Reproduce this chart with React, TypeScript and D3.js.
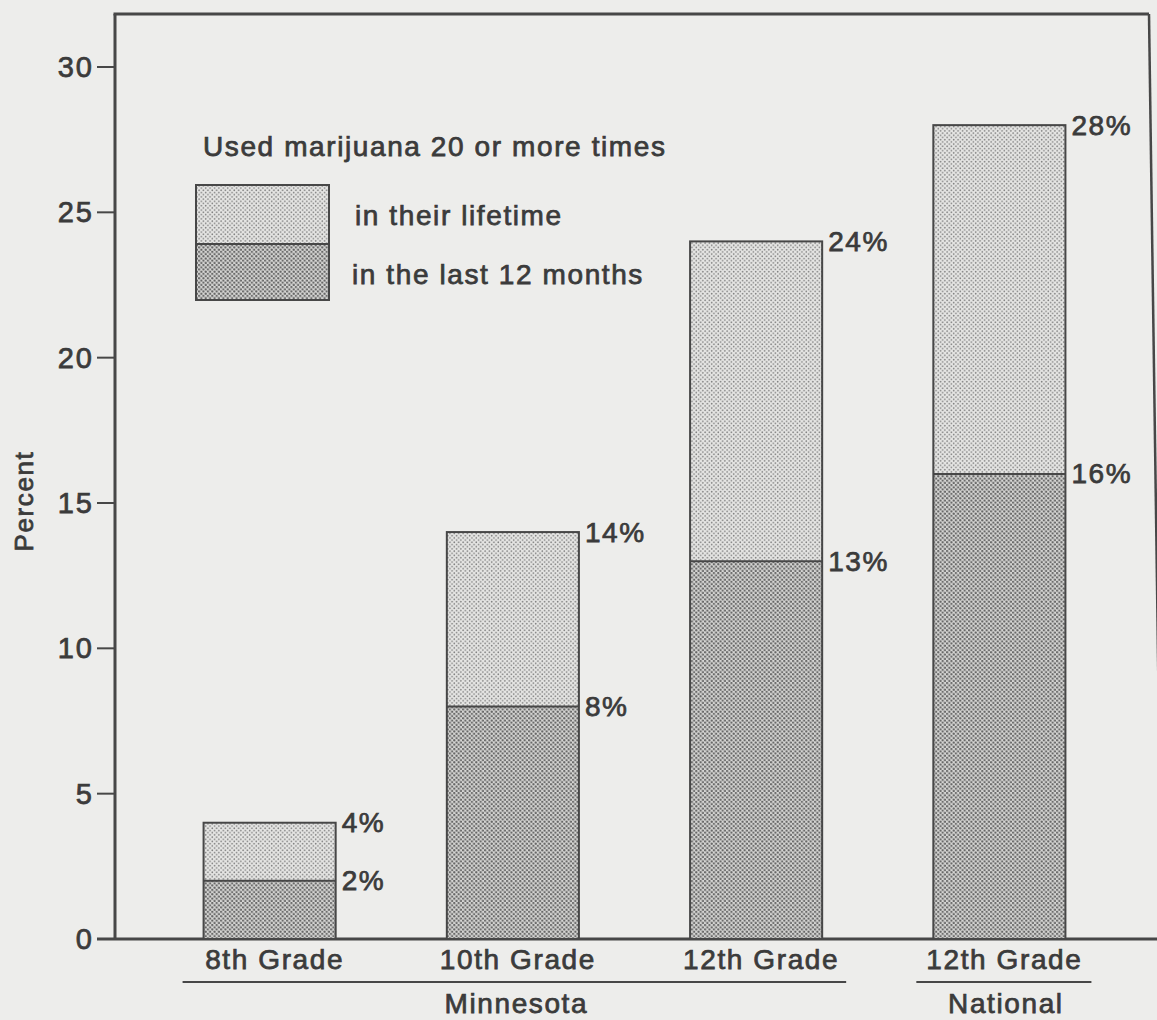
import React from 'react';
import * as d3 from 'd3';

// Heavy marijuana use by grade, Minnesota vs. national 12th graders
const gradeLabels = ['8th Grade', '10th Grade', '12th Grade', '12th Grade'];
const regionOf = ['Minnesota', 'Minnesota', 'Minnesota', 'National'];
const lifetimePct = [4, 14, 24, 28];
const lastYearPct = [2, 8, 13, 16];
const yTicks = [0, 5, 10, 15, 20, 25, 30];
const legendTitle = 'Used marijuana 20 or more times';
const legendLabels = ['in their lifetime', 'in the last 12 months'];

const W = 1157;
const H = 1020;
const INK = '#3b3b3b';
const LINE = '#474747';
const FONT = '"Liberation Sans", Arial, Helvetica, sans-serif';

export default function App() {
  const idx = gradeLabels.map((_, i) => i);
  const x = d3
    .scaleBand<number>()
    .domain(idx)
    .range([148, 1121])
    .paddingInner(0.457)
    .paddingOuter(0.2285);
  const y = d3.scaleLinear().domain([0, 30]).range([939, 67]);
  const bw = x.bandwidth();

  const axisX = 115;
  const regions = Array.from(new Set(regionOf));
  const regionSpans = regions.map((r) => {
    const members = idx.filter((i) => regionOf[i] === r);
    const first = members[0];
    const last = members[members.length - 1];
    return {
      name: r,
      x0: (x(first) as number) - (r === 'National' ? 17 : 21),
      x1: (x(last) as number) + bw + (r === 'National' ? 26 : 24),
    };
  });

  const textStyle = {
    fontFamily: FONT,
    fontSize: 28,
    fill: INK,
    stroke: INK,
    strokeWidth: 0.75,
    letterSpacing: 1.6,
  } as React.CSSProperties;

  const legendX = 196;
  const legendW = 133;
  const legendTop = 185;
  const legendMid = 244;
  const legendBottom = 300;

  return (
    <svg
      width={W}
      height={H}
      viewBox={`0 0 ${W} ${H}`}
      style={{ position: 'absolute', left: 0, top: 0, display: 'block' }}
    >
      <defs>
        <pattern id="litePat" width={4.4} height={4.4} patternUnits="userSpaceOnUse">
          <rect width={4.4} height={4.4} fill="#e6e6e4" />
          <circle cx={1.1} cy={1.1} r={0.85} fill="#808080" />
          <circle cx={3.3} cy={3.3} r={0.85} fill="#808080" />
        </pattern>
        <pattern id="darkPat" width={4.4} height={4.4} patternUnits="userSpaceOnUse">
          <rect width={4.4} height={4.4} fill="#d6d6d4" />
          <circle cx={1.1} cy={1.1} r={1.15} fill="#666" />
          <circle cx={3.3} cy={3.3} r={1.15} fill="#666" />
        </pattern>
      </defs>

      <rect width={W} height={H} fill="#ededeb" />

      {/* frame */}
      <line x1={axisX - 1.5} y1={14} x2={1149} y2={14} stroke={LINE} strokeWidth={3} />
      <line x1={1149} y1={14} x2={1162} y2={939} stroke={LINE} strokeWidth={2.5} />
      <line x1={axisX} y1={14} x2={axisX} y2={940} stroke={LINE} strokeWidth={3} />
      <line x1={97} y1={y(0)} x2={W} y2={y(0)} stroke={LINE} strokeWidth={3} />

      {/* y ticks */}
      {yTicks.map((t) => (
        <g key={t}>
          <line x1={97} x2={axisX} y1={y(t)} y2={y(t)} stroke={LINE} strokeWidth={2} />
          <text
            x={94}
            y={y(t)}
            textAnchor="end"
            dominantBaseline="central"
            style={{ ...textStyle, fontSize: 29, letterSpacing: 2 }}
          >
            {t}
          </text>
        </g>
      ))}
      <text
        transform={`translate(33, ${y(15) - 2}) rotate(-90)`}
        textAnchor="middle"
        style={{ ...textStyle, fontSize: 26, letterSpacing: 1.6 }}
      >
        Percent
      </text>

      {/* stacked bars */}
      {idx.map((i) => {
        const bx = x(i) as number;
        const yTop = y(lifetimePct[i]);
        const yMid = y(lastYearPct[i]);
        const yBase = y(0);
        return (
          <g key={i}>
            <rect x={bx} y={yTop} width={bw} height={yMid - yTop} fill="url(#litePat)" />
            <rect x={bx} y={yMid} width={bw} height={yBase - yMid} fill="url(#darkPat)" />
            <rect
              x={bx}
              y={yTop}
              width={bw}
              height={yBase - yTop}
              fill="none"
              stroke={LINE}
              strokeWidth={2}
            />
            <line x1={bx} x2={bx + bw} y1={yMid} y2={yMid} stroke={LINE} strokeWidth={2} />
            <text x={bx + bw + 6} y={yTop} dominantBaseline="central" style={textStyle}>
              {`${lifetimePct[i]}%`}
            </text>
            <text x={bx + bw + 6} y={yMid} dominantBaseline="central" style={textStyle}>
              {`${lastYearPct[i]}%`}
            </text>
            <text x={bx + bw / 2 + 5} y={969} textAnchor="middle" style={textStyle}>
              {gradeLabels[i]}
            </text>
          </g>
        );
      })}

      {/* region brackets */}
      {regionSpans.map((s) => (
        <g key={s.name}>
          <line x1={s.x0} x2={s.x1} y1={982} y2={982} stroke={LINE} strokeWidth={2} />
          <text x={(s.x0 + s.x1) / 2 + 2} y={1013} textAnchor="middle" style={textStyle}>
            {s.name}
          </text>
        </g>
      ))}

      {/* legend */}
      <text x={203} y={156} style={textStyle}>
        {legendTitle}
      </text>
      <rect x={legendX} y={legendTop} width={legendW} height={legendMid - legendTop} fill="url(#litePat)" />
      <rect x={legendX} y={legendMid} width={legendW} height={legendBottom - legendMid} fill="url(#darkPat)" />
      <rect
        x={legendX}
        y={legendTop}
        width={legendW}
        height={legendBottom - legendTop}
        fill="none"
        stroke={LINE}
        strokeWidth={2}
      />
      <line x1={legendX} x2={legendX + legendW} y1={legendMid} y2={legendMid} stroke={LINE} strokeWidth={2} />
      <text x={355} y={225} style={textStyle}>
        {legendLabels[0]}
      </text>
      <text x={352} y={284} style={textStyle}>
        {legendLabels[1]}
      </text>
    </svg>
  );
}
